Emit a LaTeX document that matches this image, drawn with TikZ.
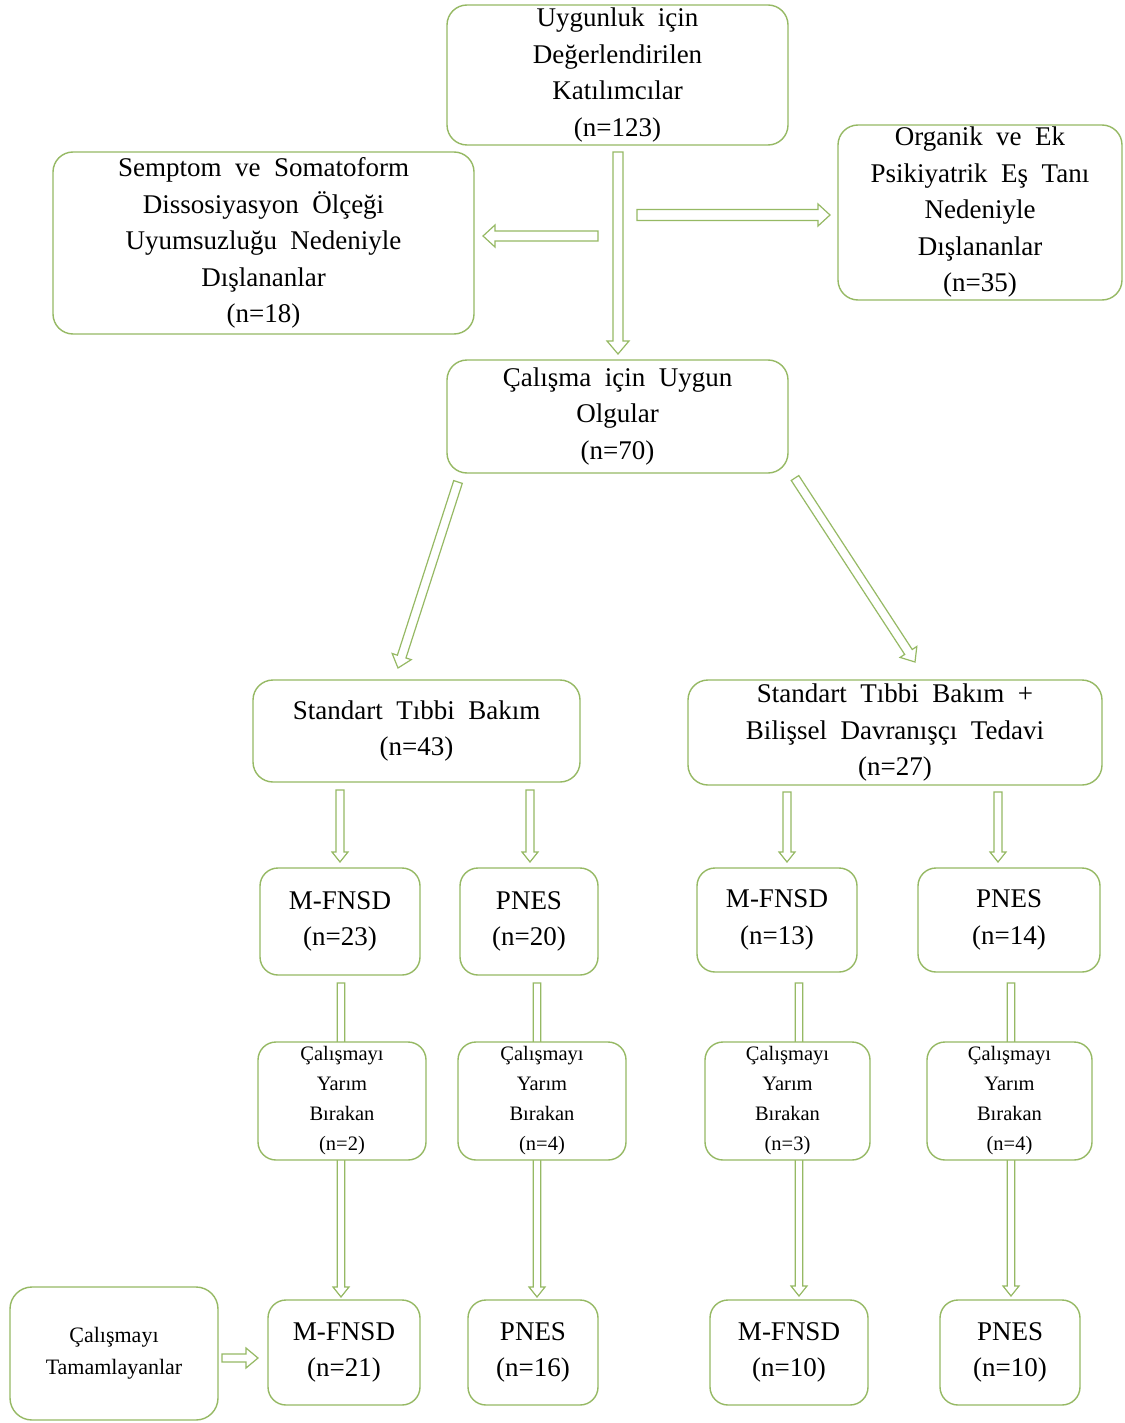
\documentclass[tikz,border=0pt]{standalone}
\usepackage{fontspec}
\setmainfont{Liberation Serif}[WordSpace=2.0]
\usetikzlibrary{calc}
\definecolor{boxgreen}{RGB}{150,185,100}
\definecolor{arrgreen}{RGB}{150,185,100}
\tikzset{
  box/.style={draw=boxgreen, line width=1.4pt, rounded corners=20pt, fill=white, align=center, inner sep=0pt},
  bigtxt/.style={font=\fontsize{27}{36.5}\selectfont},
  smalltxt/.style={font=\fontsize{20.5}{30}\selectfont},
  barrow/.style={draw=arrgreen, line width=1.2pt, fill=white, line join=miter}
}
% #1 start, #2 tip, #3 half shaft width, #4 half head width, #5 head length
\newcommand\blockarrow[5]{%
  \coordinate (bahead) at ($(#2)!#5!(#1)$);
  \draw[barrow] ($(#1)!#3!90:(#2)$) -- ($(bahead)!#3!90:(#2)$) -- ($(bahead)!#4!90:(#2)$) -- (#2)
     -- ($(bahead)!#4!-90:(#2)$) -- ($(bahead)!#3!-90:(#2)$) -- ($(#1)!#3!-90:(#2)$) -- cycle;}
\begin{document}
\begin{tikzpicture}[x=1pt,y=-1pt]
\useasboundingbox[fill=white] (0,0) rectangle (1124,1423);

% arrow end coordinates
\coordinate (a1s) at (618,152);  \coordinate (a1e) at (618,354);
\coordinate (a2s) at (598,236);  \coordinate (a2e) at (483,236);
\coordinate (a3s) at (637,215);  \coordinate (a3e) at (830,215);
\coordinate (a4s) at (458,482);  \coordinate (a4e) at (398,668);
\coordinate (a5s) at (795,478);  \coordinate (a5e) at (915,662);
\coordinate (a6s) at (340,790);  \coordinate (a6e) at (340,862);
\coordinate (a7s) at (530,790);  \coordinate (a7e) at (530,862);
\coordinate (a8s) at (787,792);  \coordinate (a8e) at (787,862);
\coordinate (a9s) at (998,792);  \coordinate (a9e) at (998,862);
\coordinate (l1s) at (341,983);  \coordinate (l1e) at (341,1297);
\coordinate (l2s) at (537,983);  \coordinate (l2e) at (537,1297);
\coordinate (l3s) at (799,983);  \coordinate (l3e) at (799,1296);
\coordinate (l4s) at (1011,983); \coordinate (l4e) at (1011,1296);
\coordinate (c1s) at (222,1358); \coordinate (c1e) at (258,1358);

% arrows
\blockarrow{a1s}{a1e}{5pt}{11pt}{13pt}
\blockarrow{a2s}{a2e}{5pt}{11pt}{12pt}
\blockarrow{a3s}{a3e}{5.5pt}{11pt}{12pt}
\blockarrow{a4s}{a4e}{4.5pt}{10pt}{12pt}
\blockarrow{a5s}{a5e}{4.5pt}{10pt}{12pt}
\blockarrow{a6s}{a6e}{4pt}{8pt}{10pt}
\blockarrow{a7s}{a7e}{4pt}{8pt}{10pt}
\blockarrow{a8s}{a8e}{4pt}{8pt}{10pt}
\blockarrow{a9s}{a9e}{4pt}{8pt}{10pt}
\blockarrow{l1s}{l1e}{3.8pt}{8pt}{10pt}
\blockarrow{l2s}{l2e}{3.8pt}{8pt}{10pt}
\blockarrow{l3s}{l3e}{3.8pt}{8pt}{10pt}
\blockarrow{l4s}{l4e}{3.8pt}{8pt}{10pt}
\blockarrow{c1s}{c1e}{4pt}{10pt}{12pt}

% boxes
\node[box,bigtxt,minimum width=341pt,minimum height=140pt] (top) at (617.5,75)
  {Uygunluk için\\Değerlendirilen\\Katılımcılar\\(n=123)};
\node[box,bigtxt,minimum width=421pt,minimum height=182pt] (exl) at (263.5,243)
  {Semptom ve Somatoform\\Dissosiyasyon Ölçeği\\Uyumsuzluğu Nedeniyle\\Dışlananlar\\(n=18)};
\node[box,bigtxt,minimum width=284pt,minimum height=175pt] (exr) at (980,212.5)
  {Organik ve Ek\\Psikiyatrik Eş Tanı\\Nedeniyle\\Dışlananlar\\(n=35)};
\node[box,bigtxt,minimum width=341pt,minimum height=113pt] (elig) at (617.5,416.5)
  {Çalışma için Uygun\\Olgular\\(n=70)};
\node[box,bigtxt,minimum width=327pt,minimum height=102pt] (smc) at (416.5,731)
  {Standart Tıbbi Bakım\\(n=43)};
\node[box,bigtxt,minimum width=414pt,minimum height=105pt] (cbt) at (895,732.5)
  {Standart Tıbbi Bakım +\\Bilişsel Davranışçı Tedavi\\(n=27)};

\node[box,bigtxt,rounded corners=18pt,minimum width=160pt,minimum height=107pt] (m23) at (340,921.5) {M-FNSD\\(n=23)};
\node[box,bigtxt,rounded corners=18pt,minimum width=138pt,minimum height=107pt] (p20) at (529,921.5) {PNES\\(n=20)};
\node[box,bigtxt,rounded corners=18pt,minimum width=160pt,minimum height=104pt] (m13) at (777,920) {M-FNSD\\(n=13)};
\node[box,bigtxt,rounded corners=18pt,minimum width=182pt,minimum height=104pt] (p14) at (1009,920) {PNES\\(n=14)};

\node[box,smalltxt,rounded corners=18pt,minimum width=168pt,minimum height=118pt] (d2) at (342,1101) {Çalışmayı\\Yarım\\Bırakan\\(n=2)};
\node[box,smalltxt,rounded corners=18pt,minimum width=168pt,minimum height=118pt] (d4) at (542,1101) {Çalışmayı\\Yarım\\Bırakan\\(n=4)};
\node[box,smalltxt,rounded corners=18pt,minimum width=165pt,minimum height=118pt] (d3) at (787.5,1101) {Çalışmayı\\Yarım\\Bırakan\\(n=3)};
\node[box,smalltxt,rounded corners=18pt,minimum width=165pt,minimum height=118pt] (d4b) at (1009.5,1101) {Çalışmayı\\Yarım\\Bırakan\\(n=4)};

\node[box,font=\fontsize{22}{32}\selectfont,rounded corners=22pt,minimum width=208pt,minimum height=133pt] (comp) at (114,1353.5) {Çalışmayı\\Tamamlayanlar};
\node[box,bigtxt,rounded corners=18pt,minimum width=152pt,minimum height=105pt] (m21) at (344,1352.5) {M-FNSD\\(n=21)};
\node[box,bigtxt,rounded corners=18pt,minimum width=130pt,minimum height=105pt] (p16) at (533,1352.5) {PNES\\(n=16)};
\node[box,bigtxt,rounded corners=18pt,minimum width=158pt,minimum height=105pt] (m10) at (789,1352.5) {M-FNSD\\(n=10)};
\node[box,bigtxt,rounded corners=18pt,minimum width=140pt,minimum height=105pt] (p10) at (1010,1352.5) {PNES\\(n=10)};
\end{tikzpicture}
\end{document}
